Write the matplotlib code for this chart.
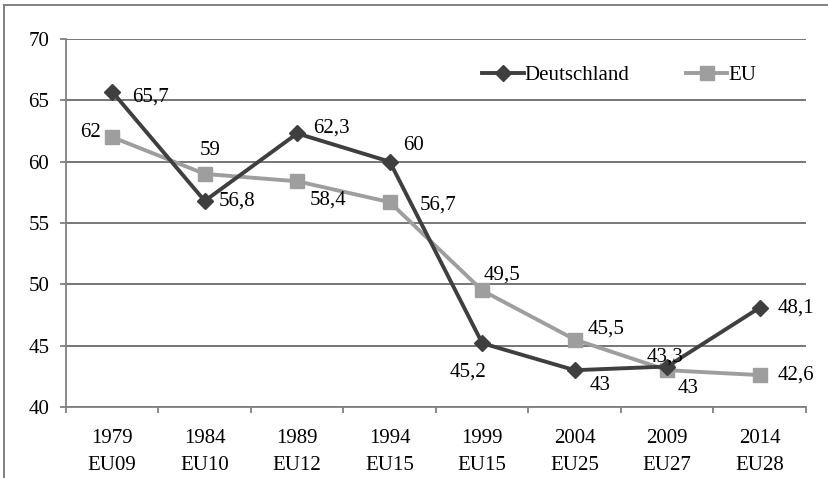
import matplotlib
matplotlib.use("Agg")
import matplotlib.pyplot as plt
from matplotlib.lines import Line2D

years = ["1979", "1984", "1989", "1994", "1999", "2004", "2009", "2014"]
eu_sizes = ["EU09", "EU10", "EU12", "EU15", "EU15", "EU25", "EU27", "EU28"]
deutschland = [65.7, 56.8, 62.3, 60.0, 45.2, 43.0, 43.3, 48.1]
eu = [62.0, 59.0, 58.4, 56.7, 49.5, 45.5, 43.0, 42.6]
d_labels = ["65,7", "56,8", "62,3", "60", "45,2", "43", "43,3", "48,1"]
eu_labels = ["62", "59", "58,4", "56,7", "49,5", "45,5", "43", "42,6"]

plt.rcParams['font.family'] = ['Liberation Serif', 'DejaVu Serif']

fig = plt.figure(figsize=(8.29, 4.78), dpi=100)
ax = fig.add_axes([66/829, 1-407/478, 740/829, 368/478])

x = list(range(len(years)))
dcol = "#3f3f3f"
ecol = "#9e9e9e"
ax.plot(x, eu, color=ecol, lw=2.8, marker="s", ms=9.5, label="EU", zorder=3)
ax.plot(x, deutschland, color=dcol, lw=2.8, marker="D", ms=8, label="Deutschland", zorder=4)

fs = 15
# label offsets in points (dx, dy, ha)
d_off = [(14.4, -3.6, "left"), (10, 0, "left"), (11.5, 3.6, "left"), (9.4, 11.5, "left"),
         (-10, -21, "center"), (10.8, -10.8, "left"), (-1.4, 6.5, "center"), (13, 0, "left")]
e_off = [(-8, 3, "right"), (3.6, 17, "center"), (8.6, -13.7, "left"), (21.6, -2, "left"),
         (0.7, 10.8, "left"), (9.4, 7.2, "left"), (7.2, -13, "left"), (13, 0, "left")]
for i in x:
    dx, dy, ha = d_off[i]
    ax.annotate(d_labels[i], (i, deutschland[i]), xytext=(dx, dy), textcoords="offset points",
                ha=ha, va="center", fontsize=fs, color="black", zorder=5)
    dx, dy, ha = e_off[i]
    ax.annotate(eu_labels[i], (i, eu[i]), xytext=(dx, dy), textcoords="offset points",
                ha=ha, va="center", fontsize=fs, color="black", zorder=5)

ax.set_xlim(-0.5, 7.5)
ax.set_ylim(40, 70)
ax.set_yticks([40, 45, 50, 55, 60, 65, 70])
ax.set_xticks(x)
ax.set_xticklabels([f"{y}\n{e}" for y, e in zip(years, eu_sizes)], fontsize=fs, linespacing=1.55)
ax.set_xticks([i - 0.5 for i in range(len(years) + 1)], minor=True)
ax.tick_params(axis="x", which="major", length=0, pad=16)
ax.tick_params(axis="x", which="minor", length=4, color="#808080", width=1.3)
ax.tick_params(axis="y", length=4, color="#808080", width=1.3, labelsize=fs, pad=8)
ax.yaxis.grid(True, color="#767676", lw=1.4)
ax.set_axisbelow(True)
for s in ["top", "right"]:
    ax.spines[s].set_visible(False)
for s in ["left", "bottom"]:
    ax.spines[s].set_color("#808080")
    ax.spines[s].set_linewidth(1.3)

h, l = ax.get_legend_handles_labels()
ax.legend(h[::-1], l[::-1], loc="center left", bbox_to_anchor=((482-66)/740, (407-75)/368),
          ncol=2, frameon=False, fontsize=fs, handlelength=2.0, handletextpad=0.05,
          columnspacing=2.7, borderpad=0, borderaxespad=0)

# outer frame (left and top edges visible)
fig.add_artist(Line2D([4/829, 4/829], [0, 1-5/478], transform=fig.transFigure, color="#808080", lw=1.4))
fig.add_artist(Line2D([4/829, 1], [1-5/478, 1-5/478], transform=fig.transFigure, color="#808080", lw=1.4))

fig.savefig("out.png", dpi=100)
